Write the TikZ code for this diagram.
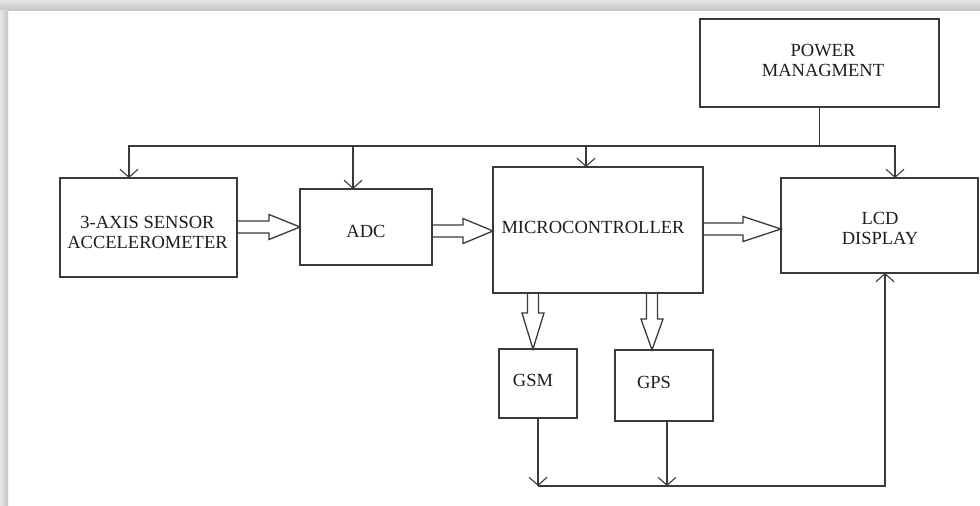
\documentclass[tikz,border=0pt]{standalone}
\usepackage{fontspec}
\setmainfont{Liberation Serif}
\usetikzlibrary{arrows.meta,calc}
\definecolor{ink}{HTML}{3A3A3A}
\definecolor{txt}{HTML}{1E1E1E}
\tikzset{
  box/.style={draw=ink,line width=1.3pt,inner sep=0pt,outer sep=0pt,rectangle},
  lbl/.style={text=txt,font=\fontsize{18.5}{20}\selectfont,align=center,inner sep=0pt},
  line/.style={draw=ink,line width=1.3pt},
  arr/.style={line,-{Straight Barb[length=8pt,width=18pt,line width=1.1pt]}},
  fat/.style={draw=ink,line width=1.3pt,line join=miter},
}
\newcommand\harrow[3]{\draw[fat] let \p1=#1, \p2=#2 in
  (\x1,\y2+6pt) -- (\x2-#3,\y2+6pt) -- (\x2-#3,\y2+12.5pt) -- (\x2,\y2)
  -- (\x2-#3,\y2-12.5pt) -- (\x2-#3,\y2-6pt) -- (\x1,\y2-6pt);}
\newcommand\varrow[3]{\draw[fat] let \p1=#1, \p2=#2 in
  (\x2-5.5pt,\y1) -- (\x2-5.5pt,\y2+#3) -- (\x2-11pt,\y2+#3) -- (\x2,\y2)
  -- (\x2+11pt,\y2+#3) -- (\x2+5.5pt,\y2+#3) -- (\x2+5.5pt,\y1);}
\begin{document}
\begin{tikzpicture}[x=1pt,y=-1pt]
\useasboundingbox (0,0) rectangle (980,506);
\fill[white] (0,0) rectangle (980,506);
% page shadow
\shade[top color=gray!20,bottom color=gray!45] (0,0) rectangle (980,10);
\shade[left color=gray!20,right color=gray!45] (0,10) rectangle (8,506);

% boxes
\node[box,minimum width=239pt,minimum height=88pt] (power) at (819.5,63) {};
\node[box,minimum width=177pt,minimum height=99pt] (sensor) at (148.5,227.5) {};
\node[box,minimum width=132pt,minimum height=76pt] (adc) at (366,227) {};
\node[box,minimum width=210pt,minimum height=126pt] (micro) at (598,230) {};
\node[box,minimum width=197pt,minimum height=95pt] (lcd) at (879.5,225.5) {};
\node[box,minimum width=78pt,minimum height=69pt] (gsm) at (538,383.5) {};
\node[box,minimum width=98pt,minimum height=71pt] (gps) at (664,385.5) {};

% labels
\node[lbl] (tpower) at (823,60) {POWER\\MANAGMENT};
\node[lbl] (tsensor) at (147.5,232) {3-AXIS SENSOR\\ACCELEROMETER};
\node[lbl] (tadc) at (366,231) {ADC};
\node[lbl] (tmicro) at (593,227) {MICROCONTROLLER};
\node[lbl] (tlcd) at (880,228) {LCD\\DISPLAY};
\node[lbl] (tgsm) at (533,380) {GSM};
\node[lbl] (tgps) at (654,382) {GPS};

% power bus
\coordinate (bus) at (820,146);
\coordinate (bL) at (129,146);
\draw[arr] (power.south) |- (bL) -- (bL |- sensor.north);
\draw[arr] ([xshift=-13pt]adc.north |- bus) -- ([xshift=-13pt]adc.north);
\draw[arr] ([xshift=-12pt]micro.north |- bus) -- ([xshift=-12pt]micro.north);
\draw[arr] (bus) -| ([xshift=15.5pt]lcd.north);

% block arrows
\harrow{(sensor.east)}{(adc.west)}{31pt}
\harrow{(adc.east)}{($(micro.west)+(0,1)$)}{30pt}
\harrow{(micro.east)}{($(lcd.west)+(0,3.5)$)}{38pt}
\varrow{(micro.south)}{([xshift=-5pt]gsm.north)}{36pt}
\varrow{(micro.south)}{([xshift=-12pt]gps.north)}{31pt}

% bottom return path
\coordinate (b1) at (538,486);
\coordinate (b2) at (667,486);
\draw[arr] (gsm.south) -- (b1);
\draw[arr] ([xshift=3pt]gps.south) -- (b2);
\draw[arr] (b1) -| ([xshift=5.5pt]lcd.south);
\end{tikzpicture}
\end{document}
